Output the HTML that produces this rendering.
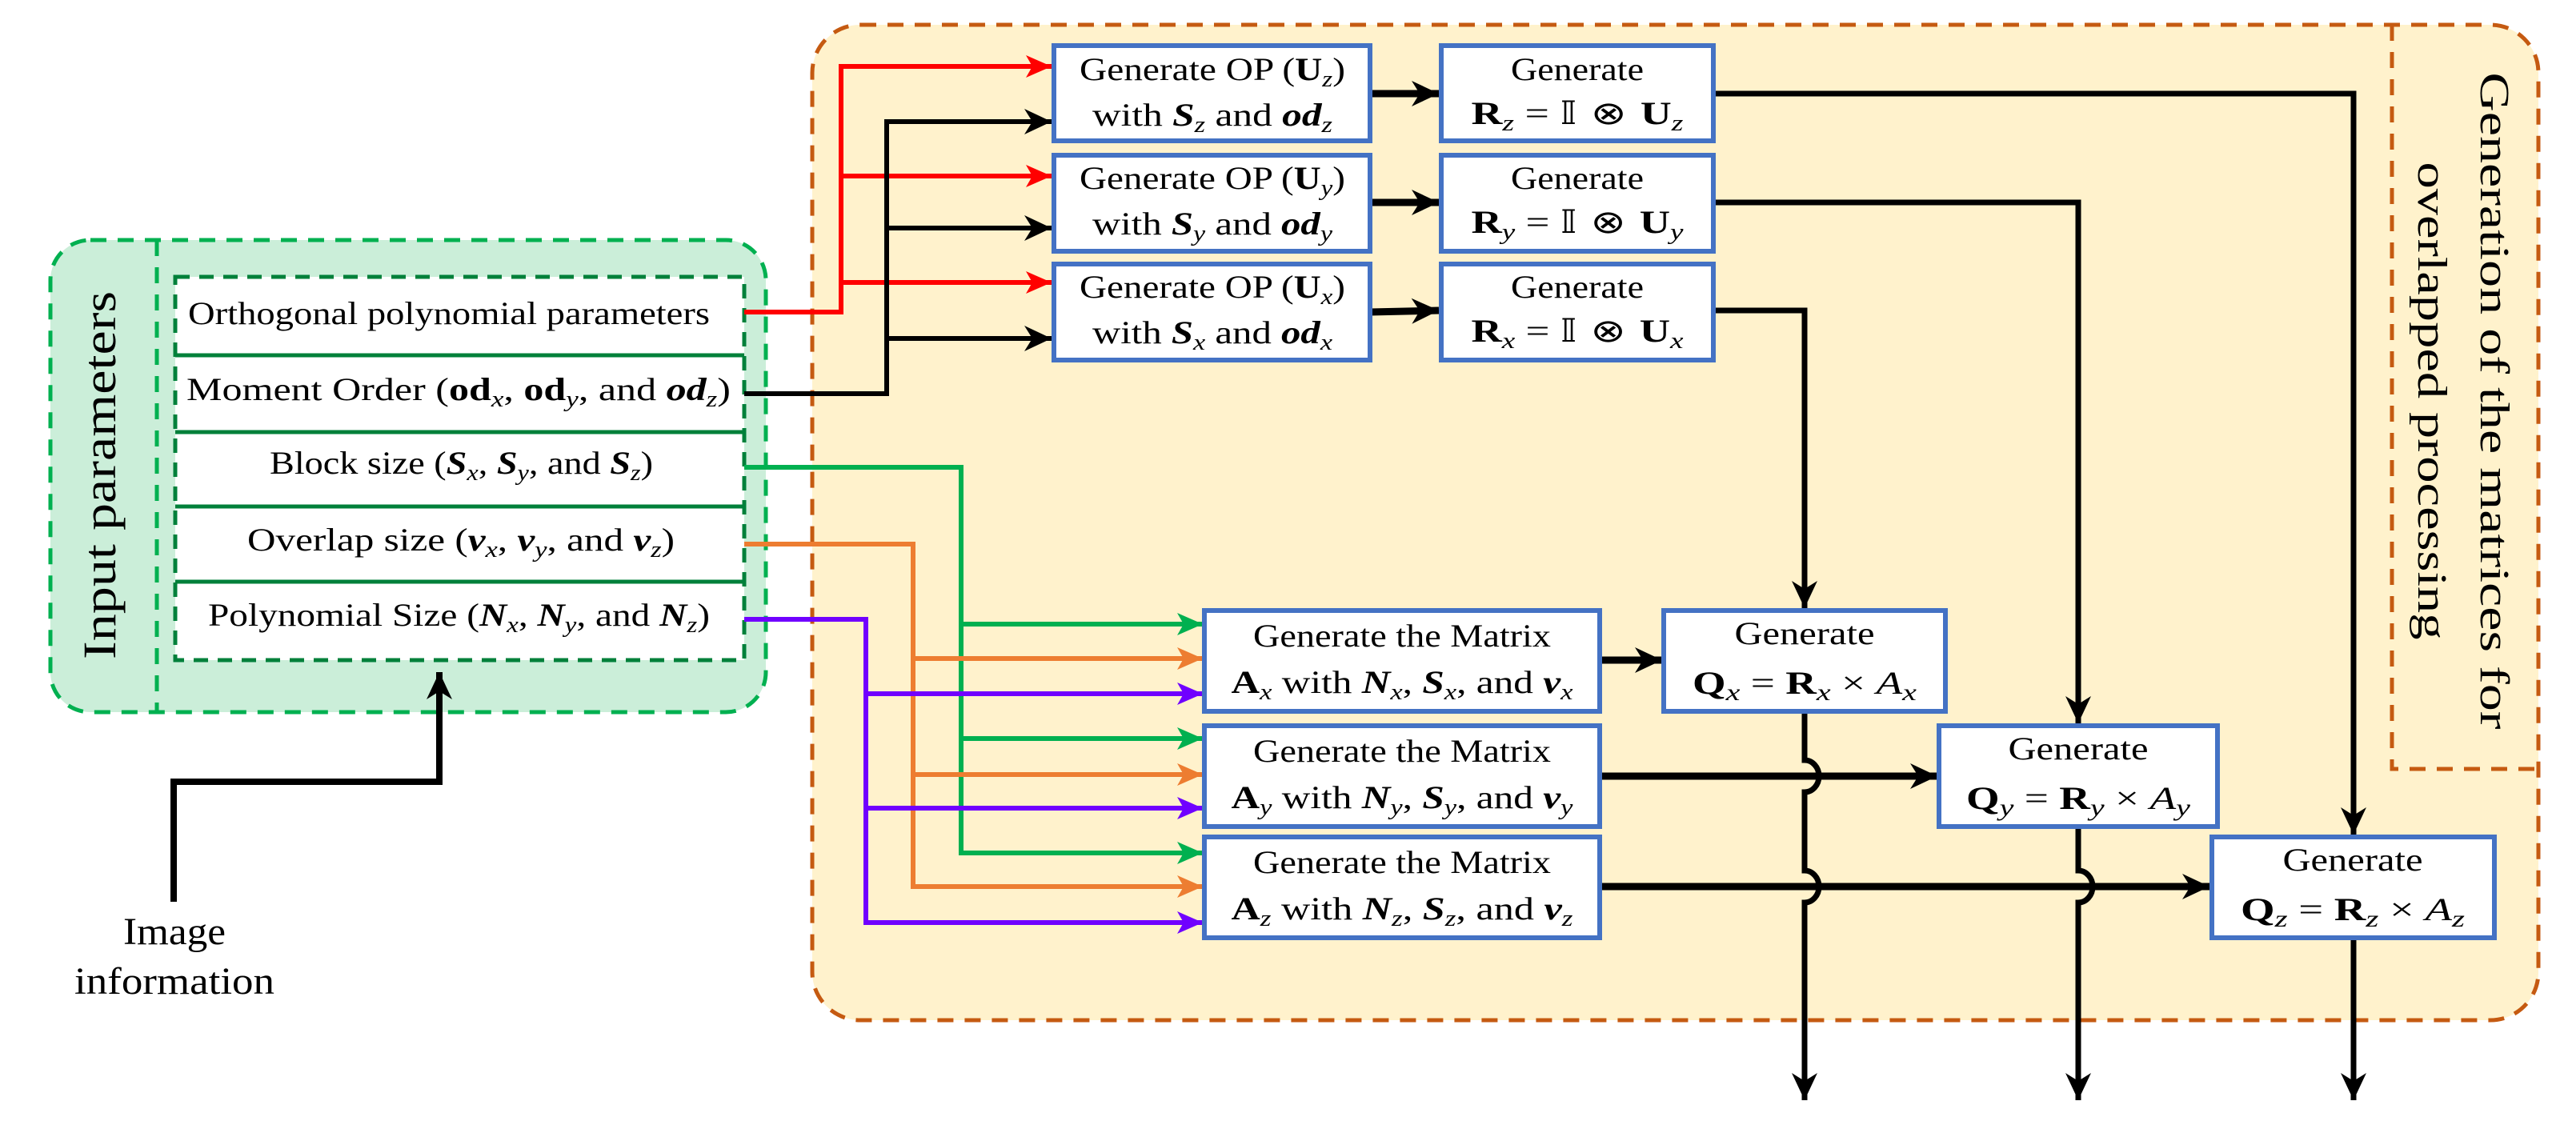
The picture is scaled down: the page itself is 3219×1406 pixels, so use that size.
<!DOCTYPE html>
<html><head><meta charset="utf-8"><style>
html,body{margin:0;padding:0;background:#fff;width:3219px;height:1406px;overflow:hidden}
svg{display:block}
text{font-family:"Liberation Serif",serif;fill:#000}
</style></head><body>
<svg width="3219" height="1406" viewBox="0 0 3219 1406" xmlns="http://www.w3.org/2000/svg">
<defs>
<marker id="mk" markerUnits="userSpaceOnUse" markerWidth="40" markerHeight="40" viewBox="0 0 40 40" refX="38" refY="20" orient="auto"><path d="M4,4 L38,20 L4,36 L14,20 z" fill="#000"/></marker>
<marker id="mr" markerUnits="userSpaceOnUse" markerWidth="40" markerHeight="40" viewBox="0 0 40 40" refX="38" refY="20" orient="auto"><path d="M6,6 L38,20 L6,34 L14,20 z" fill="#ff0000"/></marker>
<marker id="mg" markerUnits="userSpaceOnUse" markerWidth="40" markerHeight="40" viewBox="0 0 40 40" refX="38" refY="20" orient="auto"><path d="M6,6 L38,20 L6,34 L14,20 z" fill="#00b050"/></marker>
<marker id="mo" markerUnits="userSpaceOnUse" markerWidth="40" markerHeight="40" viewBox="0 0 40 40" refX="38" refY="20" orient="auto"><path d="M6,6 L38,20 L6,34 L14,20 z" fill="#ed7d31"/></marker>
<marker id="mp" markerUnits="userSpaceOnUse" markerWidth="40" markerHeight="40" viewBox="0 0 40 40" refX="38" refY="20" orient="auto"><path d="M6,6 L38,20 L6,34 L14,20 z" fill="#7000ff"/></marker>
</defs>

<rect x="1015" y="31" width="2157" height="1244" rx="60" fill="#fff2cc" stroke="#c55a11" stroke-width="5" stroke-dasharray="20,14"/>
<path d="M2989,31 V961 H3172" fill="none" stroke="#c55a11" stroke-width="5" stroke-dasharray="20,14"/>
<text transform="translate(3100,501) rotate(90)" font-family="Liberation Serif, serif" font-size="52" text-anchor="middle" textLength="821" lengthAdjust="spacingAndGlyphs">Generation  of the matrices for</text>
<text transform="translate(3022,501) rotate(90)" font-family="Liberation Serif, serif" font-size="52" text-anchor="middle" textLength="597" lengthAdjust="spacingAndGlyphs">overlapped processing</text>

<rect x="63" y="300" width="894" height="590" rx="50" fill="#cbeed9" stroke="#00b050" stroke-width="5" stroke-dasharray="20,14"/>
<line x1="196" y1="300" x2="196" y2="890" stroke="#00b050" stroke-width="5" stroke-dasharray="20,14"/>
<text transform="translate(144,594) rotate(-90)" font-family="Liberation Serif, serif" font-size="58" text-anchor="middle" textLength="460" lengthAdjust="spacingAndGlyphs">Input parameters</text>
<rect x="219" y="346" width="711" height="479" fill="#fff" stroke="#00803a" stroke-width="5" stroke-dasharray="18,12"/>
<g stroke="#00803a" stroke-width="5">
<line x1="219" y1="444" x2="930" y2="444"/><line x1="219" y1="540" x2="930" y2="540"/>
<line x1="219" y1="633" x2="930" y2="633"/><line x1="219" y1="727" x2="930" y2="727"/>
</g>
<g font-size="40">
<text x="235" y="405" textLength="652" lengthAdjust="spacingAndGlyphs">Orthogonal polynomial parameters</text>
<text x="233" y="500" textLength="680" lengthAdjust="spacingAndGlyphs">Moment Order  (<tspan font-weight="bold">od</tspan><tspan font-size="28" dy="8" font-style="italic">x</tspan><tspan dy="-8">, </tspan><tspan font-weight="bold">od</tspan><tspan font-size="28" dy="8" font-style="italic">y</tspan><tspan dy="-8">, and </tspan><tspan font-weight="bold" font-style="italic">od</tspan><tspan font-size="28" dy="8" font-style="italic">z</tspan><tspan dy="-8">)</tspan></text>
<text x="337" y="592" textLength="479" lengthAdjust="spacingAndGlyphs">Block size (<tspan font-weight="bold" font-style="italic">S</tspan><tspan font-size="28" dy="8" font-style="italic">x</tspan><tspan dy="-8">, </tspan><tspan font-weight="bold" font-style="italic">S</tspan><tspan font-size="28" dy="8" font-style="italic">y</tspan><tspan dy="-8">, and </tspan><tspan font-weight="bold" font-style="italic">S</tspan><tspan font-size="28" dy="8" font-style="italic">z</tspan><tspan dy="-8">)</tspan></text>
<text x="309" y="688" textLength="534" lengthAdjust="spacingAndGlyphs">Overlap size (<tspan font-weight="bold" font-style="italic">v</tspan><tspan font-size="28" dy="8" font-style="italic">x</tspan><tspan dy="-8">, </tspan><tspan font-weight="bold" font-style="italic">v</tspan><tspan font-size="28" dy="8" font-style="italic">y</tspan><tspan dy="-8">, and </tspan><tspan font-weight="bold" font-style="italic">v</tspan><tspan font-size="28" dy="8" font-style="italic">z</tspan><tspan dy="-8">)</tspan></text>
<text x="260" y="782" textLength="627" lengthAdjust="spacingAndGlyphs">Polynomial Size  (<tspan font-weight="bold" font-style="italic">N</tspan><tspan font-size="28" dy="8" font-style="italic">x</tspan><tspan dy="-8">, </tspan><tspan font-weight="bold" font-style="italic">N</tspan><tspan font-size="28" dy="8" font-style="italic">y</tspan><tspan dy="-8">, and </tspan><tspan font-weight="bold" font-style="italic">N</tspan><tspan font-size="28" dy="8" font-style="italic">z</tspan><tspan dy="-8">)</tspan></text>
</g>

<path d="M217,1127 V977 H549 V840" fill="none" stroke="#000" stroke-width="8" marker-end="url(#mk)"/>
<text x="218" y="1180" font-size="48" text-anchor="middle" textLength="128" lengthAdjust="spacingAndGlyphs">Image</text>
<text x="218" y="1242" font-size="48" text-anchor="middle" textLength="250" lengthAdjust="spacingAndGlyphs">information</text>

<g fill="none" stroke="#ff0000" stroke-width="6">
<path d="M930,390 H1051 V83 H1314" marker-end="url(#mr)"/>
<path d="M1051,220 H1314" marker-end="url(#mr)"/>
<path d="M1051,353 H1314" marker-end="url(#mr)"/>
</g>
<g fill="none" stroke="#000" stroke-width="6">
<path d="M930,492 H1108 V152 H1314" marker-end="url(#mk)"/>
<path d="M1108,285 H1314" marker-end="url(#mk)"/>
<path d="M1108,423 H1314" marker-end="url(#mk)"/>
</g>
<g fill="none" stroke-width="6">
<path d="M930,584 H1201 V1066 H1503" stroke="#00b050" marker-end="url(#mg)"/>
<path d="M1201,780 H1503" stroke="#00b050" marker-end="url(#mg)"/>
<path d="M1201,923 H1503" stroke="#00b050" marker-end="url(#mg)"/>
<path d="M930,680 H1141 V1108 H1503" stroke="#ed7d31" marker-end="url(#mo)"/>
<path d="M1141,823 H1503" stroke="#ed7d31" marker-end="url(#mo)"/>
<path d="M1141,968 H1503" stroke="#ed7d31" marker-end="url(#mo)"/>
<path d="M930,774 H1082 V1153 H1503" stroke="#7000ff" marker-end="url(#mp)"/>
<path d="M1082,867 H1503" stroke="#7000ff" marker-end="url(#mp)"/>
<path d="M1082,1010 H1503" stroke="#7000ff" marker-end="url(#mp)"/>
</g>

<g fill="none" stroke="#000" stroke-width="9">
<path d="M1712,117 H1798" marker-end="url(#mk)"/>
<path d="M1712,253 H1798" marker-end="url(#mk)"/>
<path d="M1712,390 L1798,388" marker-end="url(#mk)"/>
</g>
<g fill="none" stroke="#000" stroke-width="7">
<path d="M2141,117 H2941 V1043" marker-end="url(#mk)"/>
<path d="M2141,253 H2597 V904" marker-end="url(#mk)"/>
<path d="M2141,388 H2255 V760" marker-end="url(#mk)"/>
</g>
<g fill="none" stroke="#000" stroke-width="9">
<path d="M1999,825 H2077" marker-end="url(#mk)"/>
<path d="M1999,970 H2421" marker-end="url(#mk)"/>
<path d="M1999,1108 H2761" marker-end="url(#mk)"/>
</g>
<g fill="none" stroke="#000" stroke-width="7">
<path d="M2255,888 V950 A18,20 0 0 1 2255,990 V1088 A18,20 0 0 1 2255,1128 V1375" marker-end="url(#mk)"/>
<path d="M2597,1033 V1088 A18,20 0 0 1 2597,1128 V1375" marker-end="url(#mk)"/>
<path d="M2941,1172 V1375" marker-end="url(#mk)"/>
</g>

<g fill="#fff" stroke="#4472c4" stroke-width="6">
<rect x="1317" y="57" width="395" height="119"/>
<rect x="1317" y="194" width="395" height="120"/>
<rect x="1317" y="330" width="395" height="120"/>
<rect x="1801" y="57" width="340" height="119"/>
<rect x="1801" y="194" width="340" height="120"/>
<rect x="1801" y="330" width="340" height="120"/>
<rect x="1505" y="763" width="494" height="126"/>
<rect x="1505" y="907" width="494" height="126"/>
<rect x="1505" y="1046" width="494" height="126"/>
<rect x="2079" y="763" width="352" height="126"/>
<rect x="2423" y="907" width="348" height="126"/>
<rect x="2764" y="1046" width="353" height="126"/>
</g>

<g font-size="40" text-anchor="middle">
<text x="1515" y="100" textLength="332" lengthAdjust="spacingAndGlyphs">Generate OP (<tspan font-weight="bold">U</tspan><tspan font-size="28" dy="8" font-style="italic">z</tspan><tspan dy="-8">)</tspan></text>
<text x="1515" y="157" textLength="300" lengthAdjust="spacingAndGlyphs">with <tspan font-weight="bold" font-style="italic">S</tspan><tspan font-size="28" dy="8" font-style="italic">z</tspan><tspan dy="-8"> and </tspan><tspan font-weight="bold" font-style="italic">od</tspan><tspan font-size="28" dy="8" font-style="italic">z</tspan></text>
<text x="1515" y="236" textLength="332" lengthAdjust="spacingAndGlyphs">Generate OP (<tspan font-weight="bold">U</tspan><tspan font-size="28" dy="8" font-style="italic">y</tspan><tspan dy="-8">)</tspan></text>
<text x="1515" y="293" textLength="300" lengthAdjust="spacingAndGlyphs">with <tspan font-weight="bold" font-style="italic">S</tspan><tspan font-size="28" dy="8" font-style="italic">y</tspan><tspan dy="-8"> and </tspan><tspan font-weight="bold" font-style="italic">od</tspan><tspan font-size="28" dy="8" font-style="italic">y</tspan></text>
<text x="1515" y="372" textLength="332" lengthAdjust="spacingAndGlyphs">Generate OP (<tspan font-weight="bold">U</tspan><tspan font-size="28" dy="8" font-style="italic">x</tspan><tspan dy="-8">)</tspan></text>
<text x="1515" y="429" textLength="300" lengthAdjust="spacingAndGlyphs">with <tspan font-weight="bold" font-style="italic">S</tspan><tspan font-size="28" dy="8" font-style="italic">x</tspan><tspan dy="-8"> and </tspan><tspan font-weight="bold" font-style="italic">od</tspan><tspan font-size="28" dy="8" font-style="italic">x</tspan></text>
<text x="1971" y="100" textLength="166" lengthAdjust="spacingAndGlyphs">Generate</text>
<text x="1971" y="155" textLength="265" lengthAdjust="spacingAndGlyphs"><tspan font-weight="bold">R</tspan><tspan font-size="28" dy="8" font-style="italic">z</tspan><tspan dy="-8"> = </tspan><tspan font-family="DejaVu Sans, sans-serif">𝕀 ⊗ </tspan><tspan font-weight="bold">U</tspan><tspan font-size="28" dy="8" font-style="italic">z</tspan></text>
<text x="1971" y="236" textLength="166" lengthAdjust="spacingAndGlyphs">Generate</text>
<text x="1971" y="291" textLength="265" lengthAdjust="spacingAndGlyphs"><tspan font-weight="bold">R</tspan><tspan font-size="28" dy="8" font-style="italic">y</tspan><tspan dy="-8"> = </tspan><tspan font-family="DejaVu Sans, sans-serif">𝕀 ⊗ </tspan><tspan font-weight="bold">U</tspan><tspan font-size="28" dy="8" font-style="italic">y</tspan></text>
<text x="1971" y="372" textLength="166" lengthAdjust="spacingAndGlyphs">Generate</text>
<text x="1971" y="427" textLength="265" lengthAdjust="spacingAndGlyphs"><tspan font-weight="bold">R</tspan><tspan font-size="28" dy="8" font-style="italic">x</tspan><tspan dy="-8"> = </tspan><tspan font-family="DejaVu Sans, sans-serif">𝕀 ⊗ </tspan><tspan font-weight="bold">U</tspan><tspan font-size="28" dy="8" font-style="italic">x</tspan></text>
<text x="1752" y="808" textLength="372" lengthAdjust="spacingAndGlyphs">Generate the Matrix</text>
<text x="1752" y="866" textLength="427" lengthAdjust="spacingAndGlyphs"><tspan font-weight="bold">A</tspan><tspan font-size="28" dy="8" font-style="italic">x</tspan><tspan dy="-8"> with </tspan><tspan font-weight="bold" font-style="italic">N</tspan><tspan font-size="28" dy="8" font-style="italic">x</tspan><tspan dy="-8">, </tspan><tspan font-weight="bold" font-style="italic">S</tspan><tspan font-size="28" dy="8" font-style="italic">x</tspan><tspan dy="-8">, and </tspan><tspan font-weight="bold" font-style="italic">v</tspan><tspan font-size="28" dy="8" font-style="italic">x</tspan></text>
<text x="1752" y="952" textLength="372" lengthAdjust="spacingAndGlyphs">Generate the Matrix</text>
<text x="1752" y="1010" textLength="427" lengthAdjust="spacingAndGlyphs"><tspan font-weight="bold">A</tspan><tspan font-size="28" dy="8" font-style="italic">y</tspan><tspan dy="-8"> with </tspan><tspan font-weight="bold" font-style="italic">N</tspan><tspan font-size="28" dy="8" font-style="italic">y</tspan><tspan dy="-8">, </tspan><tspan font-weight="bold" font-style="italic">S</tspan><tspan font-size="28" dy="8" font-style="italic">y</tspan><tspan dy="-8">, and </tspan><tspan font-weight="bold" font-style="italic">v</tspan><tspan font-size="28" dy="8" font-style="italic">y</tspan></text>
<text x="1752" y="1091" textLength="372" lengthAdjust="spacingAndGlyphs">Generate the Matrix</text>
<text x="1752" y="1149" textLength="427" lengthAdjust="spacingAndGlyphs"><tspan font-weight="bold">A</tspan><tspan font-size="28" dy="8" font-style="italic">z</tspan><tspan dy="-8"> with </tspan><tspan font-weight="bold" font-style="italic">N</tspan><tspan font-size="28" dy="8" font-style="italic">z</tspan><tspan dy="-8">, </tspan><tspan font-weight="bold" font-style="italic">S</tspan><tspan font-size="28" dy="8" font-style="italic">z</tspan><tspan dy="-8">, and </tspan><tspan font-weight="bold" font-style="italic">v</tspan><tspan font-size="28" dy="8" font-style="italic">z</tspan></text>
<text x="2255" y="805" textLength="175" lengthAdjust="spacingAndGlyphs">Generate</text>
<text x="2255" y="867" textLength="280" lengthAdjust="spacingAndGlyphs"><tspan font-weight="bold">Q</tspan><tspan font-size="30" dy="8" font-style="italic">x</tspan><tspan dy="-8"> = </tspan><tspan font-weight="bold">R</tspan><tspan font-size="30" dy="8" font-style="italic">x</tspan><tspan dy="-8"> × </tspan><tspan font-style="italic">A</tspan><tspan font-size="30" dy="8" font-style="italic">x</tspan></text>
<text x="2597" y="949" textLength="175" lengthAdjust="spacingAndGlyphs">Generate</text>
<text x="2597" y="1011" textLength="280" lengthAdjust="spacingAndGlyphs"><tspan font-weight="bold">Q</tspan><tspan font-size="30" dy="8" font-style="italic">y</tspan><tspan dy="-8"> = </tspan><tspan font-weight="bold">R</tspan><tspan font-size="30" dy="8" font-style="italic">y</tspan><tspan dy="-8"> × </tspan><tspan font-style="italic">A</tspan><tspan font-size="30" dy="8" font-style="italic">y</tspan></text>
<text x="2940" y="1088" textLength="175" lengthAdjust="spacingAndGlyphs">Generate</text>
<text x="2940" y="1150" textLength="280" lengthAdjust="spacingAndGlyphs"><tspan font-weight="bold">Q</tspan><tspan font-size="30" dy="8" font-style="italic">z</tspan><tspan dy="-8"> = </tspan><tspan font-weight="bold">R</tspan><tspan font-size="30" dy="8" font-style="italic">z</tspan><tspan dy="-8"> × </tspan><tspan font-style="italic">A</tspan><tspan font-size="30" dy="8" font-style="italic">z</tspan></text>
</g>
</svg>
</body></html>
